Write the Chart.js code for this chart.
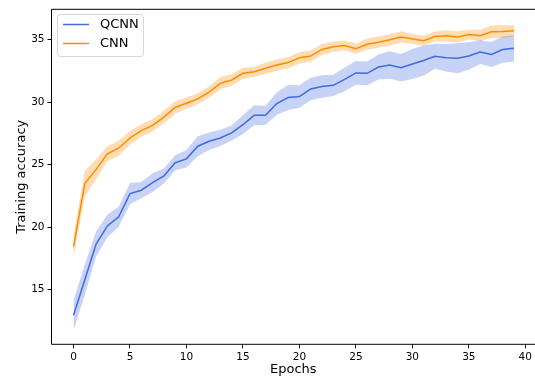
<!DOCTYPE html>
<html>
<head>
<meta charset="utf-8">
<script src="https://cdn.jsdelivr.net/npm/chart.js@4/dist/chart.umd.min.js"></script>
<style>
  html, body { margin: 0; padding: 0; background: #fff; overflow: hidden; }
  #wrap { width: 535px; height: 381px; }
</style>
</head>
<body>
<div id="wrap"><canvas id="grafico" width="535" height="381"></canvas></div>
<script>
// data
const epochs = [0, 1, 2, 3, 4, 5, 6, 7, 8, 9, 10, 11, 12, 13, 14, 15, 16, 17, 18, 19,
  20, 21, 22, 23, 24, 25, 26, 27, 28, 29, 30, 31, 32, 33, 34, 35, 36, 37, 38, 39];

const seriesNames = ['QCNN', 'CNN'];

const qcnnMean = [12.96, 15.8, 18.65, 20.1, 20.83, 22.68, 22.95, 23.56, 24.09, 25.15,
  25.46, 26.47, 26.87, 27.13, 27.53, 28.19, 28.94, 28.94, 29.88, 30.36,
  30.44, 31.05, 31.24, 31.34, 31.82, 32.33, 32.3, 32.8, 32.97, 32.75,
  33.05, 33.32, 33.66, 33.55, 33.5, 33.68, 34.0, 33.81, 34.2, 34.3];
const qcnnSpread = [1.2, 1.2, 1.0, 0.9, 0.8, 0.85, 0.65, 0.75, 0.6, 0.6,
  0.7, 0.8, 0.7, 0.65, 0.6, 0.75, 0.8, 0.75, 0.9, 1.0,
  0.9, 0.9, 0.9, 0.85, 0.95, 0.95, 0.95, 1.0, 1.1, 1.1,
  1.2, 1.2, 1.0, 1.1, 1.2, 1.1, 0.95, 1.0, 1.05, 1.05];

const cnnMean = [18.44, 23.48, 24.62, 25.86, 26.31, 27.13, 27.72, 28.14, 28.8, 29.57,
  29.91, 30.26, 30.79, 31.5, 31.77, 32.3, 32.43, 32.7, 32.96, 33.16,
  33.54, 33.68, 34.21, 34.42, 34.52, 34.27, 34.63, 34.79, 34.98, 35.21,
  35.05, 34.9, 35.24, 35.3, 35.21, 35.4, 35.31, 35.62, 35.64, 35.7];
const cnnSpread = [0.9, 1.0, 0.8, 0.6, 0.6, 0.55, 0.5, 0.5, 0.5, 0.5,
  0.45, 0.45, 0.45, 0.5, 0.45, 0.45, 0.4, 0.45, 0.45, 0.45,
  0.45, 0.45, 0.45, 0.4, 0.4, 0.4, 0.45, 0.45, 0.45, 0.45,
  0.4, 0.4, 0.4, 0.45, 0.45, 0.4, 0.45, 0.5, 0.5, 0.45];

const xTicks = [0, 5, 10, 15, 20, 25, 30, 35, 40];
const yTicks = [15, 20, 25, 30, 35];

const blue = 'rgb(65, 105, 225)';
const blueBand = 'rgba(65, 105, 225, 0.3)';
const orange = 'rgb(255, 140, 0)';
const orangeBand = 'rgba(255, 140, 0, 0.3)';

function puntos(values) {
  return epochs.map((e, i) => ({ x: e, y: values[i] }));
}
function banda(mean, spread, sign) {
  return epochs.map((e, i) => ({ x: e, y: mean[i] + sign * spread[i] }));
}

const lineStyle = { pointRadius: 0, borderWidth: 1.5, fill: false, tension: 0 };
const bandStyle = { pointRadius: 0, borderWidth: 0, tension: 0 };

// frame (right side is cut off in the original) + legend box
const framePlugin = {
  id: 'frame',
  afterDatasetsDraw(chart) {
    const { ctx, chartArea: a } = chart;
    ctx.save();
    ctx.strokeStyle = '#000';
    ctx.lineWidth = 1;
    ctx.beginPath();
    ctx.moveTo(chart.width, a.top);
    ctx.lineTo(a.left, a.top);
    ctx.lineTo(a.left, a.bottom);
    ctx.lineTo(chart.width, a.bottom);
    ctx.stroke();

    // legend
    const bx = 57.5, by = 14.5, bw = 86, bh = 42, r = 3;
    ctx.beginPath();
    ctx.moveTo(bx + r, by);
    ctx.arcTo(bx + bw, by, bx + bw, by + bh, r);
    ctx.arcTo(bx + bw, by + bh, bx, by + bh, r);
    ctx.arcTo(bx, by + bh, bx, by, r);
    ctx.arcTo(bx, by, bx + bw, by, r);
    ctx.closePath();
    ctx.fillStyle = 'rgba(255,255,255,0.8)';
    ctx.fill();
    ctx.strokeStyle = 'rgba(204,204,204,0.8)';
    ctx.stroke();

    const colores = [blue, orange];
    ctx.font = '13px "DejaVu Sans"';
    ctx.textBaseline = 'middle';
    ctx.textAlign = 'left';
    seriesNames.forEach((name, i) => {
      const y = 24.5 + i * 19;
      ctx.beginPath();
      ctx.moveTo(63, y);
      ctx.lineTo(89, y);
      ctx.strokeStyle = colores[i];
      ctx.lineWidth = 1.5;
      ctx.stroke();
      ctx.fillStyle = '#000';
      ctx.fillText(name, 100, y);
    });
    ctx.restore();
  }
};

const config = {
  type: 'line',
  data: {
    datasets: [
      Object.assign({ label: seriesNames[0], data: puntos(qcnnMean), borderColor: blue }, lineStyle),
      Object.assign({ label: seriesNames[1], data: puntos(cnnMean), borderColor: orange }, lineStyle),
      Object.assign({ label: 'qcnn_hi', data: banda(qcnnMean, qcnnSpread, 1), backgroundColor: blueBand, fill: 3 }, bandStyle),
      Object.assign({ label: 'qcnn_lo', data: banda(qcnnMean, qcnnSpread, -1), fill: false }, bandStyle),
      Object.assign({ label: 'cnn_hi', data: banda(cnnMean, cnnSpread, 1), backgroundColor: orangeBand, fill: 5 }, bandStyle),
      Object.assign({ label: 'cnn_lo', data: banda(cnnMean, cnnSpread, -1), fill: false }, bandStyle)
    ]
  },
  options: {
    responsive: false,
    animation: false,
    devicePixelRatio: 1,
    layout: { padding: { top: 7.3, right: 0, bottom: 0, left: 0 } },
    plugins: {
      legend: { display: false },
      tooltip: { enabled: false }
    },
    scales: {
      x: {
        type: 'linear',
        min: -1.95,
        max: 40.86,
        afterBuildTicks: s => { s.ticks = xTicks.map(v => ({ value: v })); },
        afterFit: s => { s.height = 36.7; },
        grid: { drawOnChartArea: false, drawTicks: true, tickLength: 4, color: '#000' },
        border: { display: false },
        ticks: { color: '#000', padding: 3, maxRotation: 0, font: { family: 'DejaVu Sans', size: 10.5 } },
        title: { display: true, text: 'Epochs', color: '#000', padding: { top: 0, bottom: 4 }, font: { family: 'DejaVu Sans', size: 13 } }
      },
      y: {
        type: 'linear',
        min: 10.63,
        max: 37.42,
        afterBuildTicks: s => { s.ticks = yTicks.map(v => ({ value: v })); },
        afterFit: s => { s.width = 51.5; },
        grid: { drawOnChartArea: false, drawTicks: true, tickLength: 4, color: '#000' },
        border: { display: false },
        ticks: { color: '#000', padding: 3, font: { family: 'DejaVu Sans', size: 10.5 } },
        title: { display: true, text: 'Training accuracy', color: '#000', padding: { top: 14, bottom: 0 }, font: { family: 'DejaVu Sans', size: 13 } }
      }
    }
  },
  plugins: [framePlugin]
};

const ctx = document.getElementById('grafico').getContext('2d');
const chart = new Chart(ctx, config);
</script>
</body>
</html>
